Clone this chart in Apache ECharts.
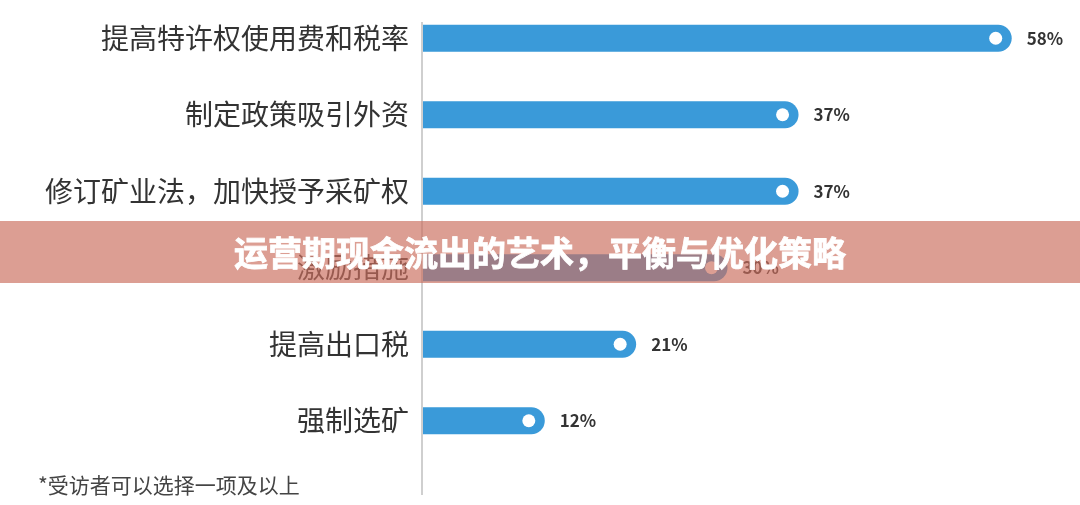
<!DOCTYPE html>
<html>
<head>
<meta charset="utf-8">
<script src="https://cdn.jsdelivr.net/npm/echarts@6/dist/echarts.min.js"></script>
<style>html,body{margin:0;padding:0;background:#fff;}#c{width:1080px;height:505px;}</style>
</head>
<body>
<div id="c"></div>
<script>
const categories = ['提高特许权使用费和税率', '制定政策吸引外资', '修订矿业法，加快授予采矿权', '激励措施', '提高出口税', '强制选矿'];
const values = [58, 37, 37, 30, 21, 12];
const titleText = '运营期现金流出的艺术，平衡与优化策略';
const footnote = '*受访者可以选择一项及以上';

const chart = echarts.init(document.getElementById('c'));
const font = '"Noto Sans CJK SC", "Noto Sans", sans-serif';
chart.setOption({
  animation: false,
  backgroundColor: '#fff',
  grid: { left: 423, top: -3, height: 462, width: 609 },
  xAxis: { type: 'value', min: 0, max: 60, show: false },
  yAxis: {
    type: 'category', data: categories, inverse: true,
    axisLine: { show: false }, axisTick: { show: false },
    axisLabel: { fontSize: 28, color: '#333', margin: 14, fontFamily: font }
  },
  series: [
    {
      type: 'bar', data: values, barWidth: 27,
      itemStyle: { color: '#3a9ad9', borderRadius: [0, 14, 14, 0] },
      label: {
        show: true, position: 'right', distance: 15, formatter: '{c}%',
        fontSize: 17, fontWeight: 'bold', color: '#333', fontFamily: font
      }
    },
    {
      type: 'scatter', data: values.map((v, i) => [v, i]), symbol: 'circle', symbolSize: 13,
      symbolOffset: [-16, 0], itemStyle: { color: '#ffffff', opacity: 1 }, silent: true, z: 5
    }
  ],
  graphic: [
    { type: 'line', shape: { x1: 422, y1: 22, x2: 422, y2: 495 }, style: { stroke: '#cfcfcf', lineWidth: 2 }, z: 1 },
    { type: 'text', left: 38, top: 475, style: { text: footnote, fontSize: 21, fill: '#444', fontFamily: font } },
    { type: 'rect', shape: { x: 0, y: 221, width: 1080, height: 62 }, style: { fill: 'rgba(203,110,94,0.67)' }, z: 100 },
    { type: 'text', x: 540, y: 253, z: 101, style: { text: titleText, fontSize: 34, fontWeight: 'bold', fill: '#fff', align: 'center', verticalAlign: 'middle', fontFamily: font, stroke: '#fff', lineWidth: 0.8 } }
  ]
});
</script>
</body>
</html>
